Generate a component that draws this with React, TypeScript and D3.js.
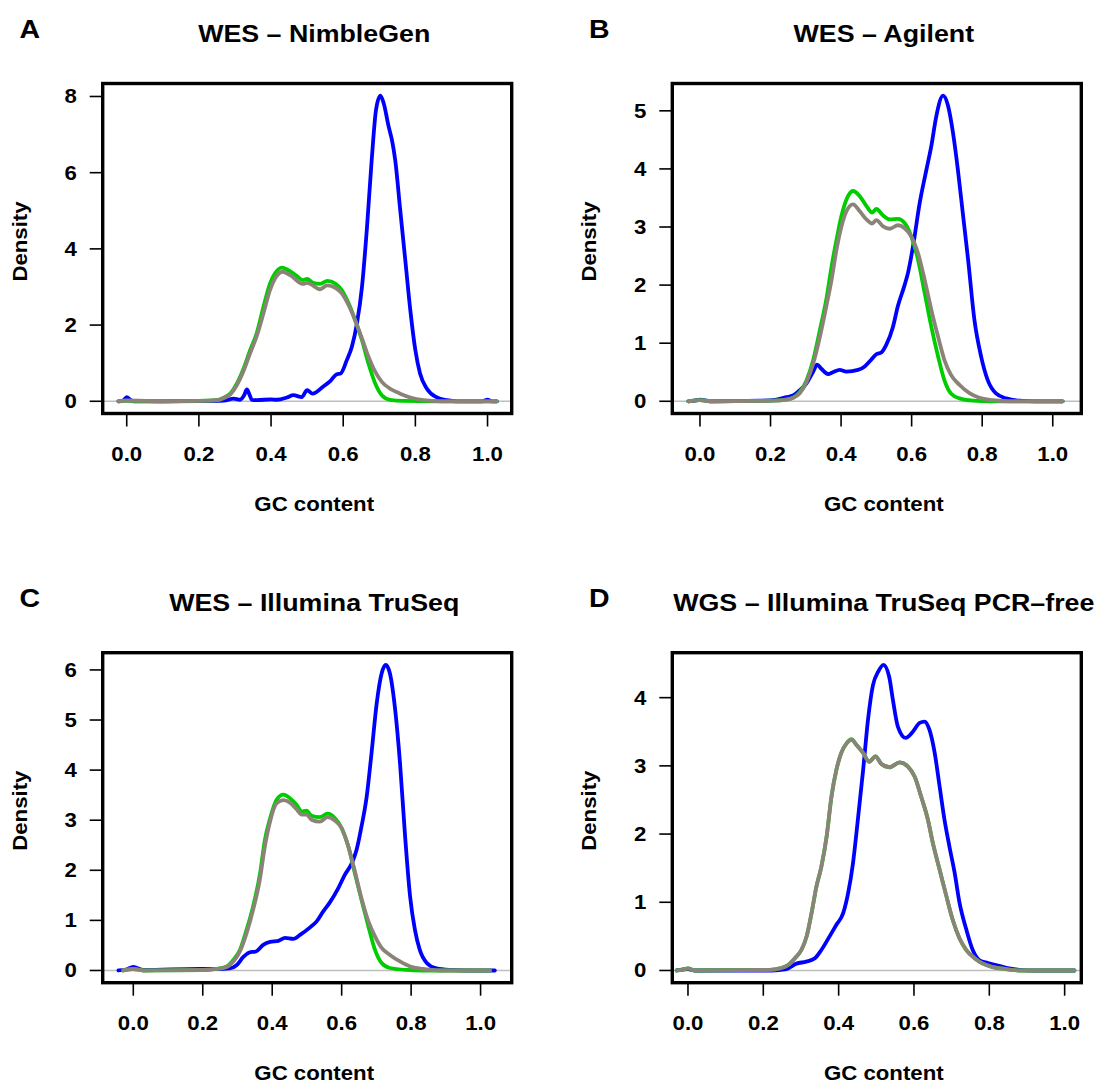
import React from "react";
import * as d3 from "d3";

// GC content density curves: [gc, density]
const nimbleBlue = [[-0.023,0],[-0.01,0.02],[0,0.11],[0.01,0.04],[0.02,0],[0.1,0],[0.2,0.005],[0.27,0.02],[0.296,0.07],[0.314,0.04],[0.325,0.15],[0.333,0.31],[0.34,0.18],[0.347,0.04],[0.36,0.03],[0.4,0.05],[0.416,0.04],[0.444,0.1],[0.462,0.16],[0.485,0.11],[0.5,0.29],[0.515,0.2],[0.545,0.39],[0.564,0.53],[0.582,0.71],[0.593,0.73],[0.61,1.08],[0.624,1.43],[0.638,2.04],[0.652,3.0],[0.666,4.58],[0.679,6.34],[0.691,7.65],[0.703,8.02],[0.712,7.83],[0.726,7.21],[0.735,6.86],[0.744,6.34],[0.758,5.02],[0.772,3.71],[0.786,2.39],[0.8,1.34],[0.813,0.73],[0.832,0.33],[0.86,0.1],[0.887,0.03],[0.915,0],[0.985,0],[1.0,0.04],[1.012,0],[1.026,0]];
const nimbleGreen = [[-0.023,0],[0,0.01],[0.1,0],[0.2,0.01],[0.25,0.03],[0.268,0.09],[0.287,0.2],[0.305,0.46],[0.324,0.86],[0.342,1.34],[0.36,1.78],[0.379,2.48],[0.397,3.09],[0.411,3.36],[0.43,3.51],[0.448,3.44],[0.471,3.29],[0.488,3.18],[0.5,3.21],[0.516,3.11],[0.536,3.08],[0.556,3.16],[0.578,3.09],[0.596,2.92],[0.615,2.57],[0.633,2.13],[0.652,1.6],[0.67,0.99],[0.689,0.46],[0.707,0.16],[0.73,0.04],[0.767,0.01],[0.85,0],[1.026,0]];
const nimbleGray = [[-0.023,0],[0,0.02],[0.1,0],[0.2,0.01],[0.25,0.03],[0.268,0.08],[0.287,0.18],[0.305,0.42],[0.324,0.8],[0.342,1.26],[0.36,1.7],[0.379,2.31],[0.397,2.92],[0.411,3.22],[0.432,3.4],[0.453,3.31],[0.488,3.08],[0.5,3.11],[0.536,2.94],[0.556,3.04],[0.578,2.98],[0.596,2.83],[0.615,2.52],[0.633,2.13],[0.652,1.65],[0.67,1.17],[0.689,0.77],[0.707,0.51],[0.73,0.33],[0.758,0.2],[0.786,0.1],[0.823,0.03],[0.87,0],[1.026,0]];

const agilentBlue = [[-0.033,0],[-0.015,0.01],[0,0.03],[0.028,0],[0.17,0.01],[0.217,0.03],[0.245,0.07],[0.264,0.1],[0.283,0.19],[0.302,0.31],[0.321,0.51],[0.332,0.63],[0.344,0.56],[0.363,0.47],[0.377,0.5],[0.396,0.54],[0.415,0.51],[0.448,0.54],[0.467,0.6],[0.486,0.72],[0.5,0.81],[0.514,0.84],[0.528,0.97],[0.547,1.28],[0.561,1.64],[0.58,2.0],[0.59,2.22],[0.604,2.67],[0.623,3.42],[0.642,3.99],[0.656,4.4],[0.67,4.91],[0.689,5.26],[0.703,5.09],[0.717,4.63],[0.731,3.99],[0.745,3.24],[0.76,2.44],[0.778,1.4],[0.797,0.77],[0.816,0.36],[0.84,0.13],[0.868,0.05],[0.906,0.01],[0.95,0],[1.028,0]];
const agilentGreen = [[-0.033,0],[0,0.02],[0.03,0],[0.208,0.01],[0.245,0.03],[0.264,0.06],[0.283,0.16],[0.302,0.36],[0.321,0.71],[0.34,1.23],[0.358,1.75],[0.373,2.32],[0.387,2.78],[0.401,3.19],[0.415,3.47],[0.434,3.62],[0.453,3.53],[0.472,3.36],[0.488,3.25],[0.5,3.31],[0.519,3.2],[0.538,3.13],[0.561,3.14],[0.58,3.07],[0.599,2.84],[0.618,2.44],[0.637,1.86],[0.656,1.28],[0.675,0.77],[0.693,0.36],[0.712,0.13],[0.736,0.05],[0.774,0.01],[0.82,0],[1.028,0]];
const agilentGray = [[-0.033,0],[0,0.02],[0.03,0],[0.208,0.01],[0.245,0.03],[0.264,0.06],[0.283,0.14],[0.302,0.33],[0.321,0.65],[0.34,1.11],[0.358,1.63],[0.373,2.09],[0.387,2.61],[0.401,3.01],[0.415,3.27],[0.434,3.39],[0.453,3.27],[0.472,3.13],[0.488,3.06],[0.5,3.12],[0.519,3.01],[0.538,2.97],[0.561,3.03],[0.58,2.98],[0.599,2.84],[0.618,2.55],[0.637,2.09],[0.656,1.57],[0.675,1.11],[0.693,0.71],[0.712,0.45],[0.736,0.28],[0.764,0.14],[0.792,0.06],[0.83,0.02],[0.877,0],[1.028,0]];

const truseqBlue = [[-0.043,0],[-0.02,0.02],[0,0.07],[0.029,0.01],[0.19,0.03],[0.24,0.03],[0.278,0.04],[0.298,0.11],[0.317,0.27],[0.334,0.36],[0.353,0.38],[0.374,0.51],[0.394,0.57],[0.418,0.59],[0.437,0.65],[0.461,0.63],[0.48,0.71],[0.509,0.86],[0.528,0.98],[0.547,1.18],[0.566,1.36],[0.59,1.64],[0.609,1.91],[0.629,2.14],[0.643,2.41],[0.657,2.87],[0.672,3.47],[0.686,4.34],[0.701,5.34],[0.715,5.93],[0.727,6.1],[0.739,5.93],[0.753,5.27],[0.768,4.14],[0.782,2.74],[0.797,1.48],[0.811,0.81],[0.825,0.41],[0.845,0.15],[0.873,0.04],[0.912,0.01],[0.96,0],[1.041,0]];
const truseqGreen = [[-0.029,0],[0,0.03],[0.029,0],[0.2,0.01],[0.24,0.03],[0.269,0.08],[0.288,0.21],[0.307,0.41],[0.326,0.81],[0.345,1.28],[0.365,1.94],[0.379,2.61],[0.394,3.04],[0.413,3.41],[0.432,3.51],[0.451,3.44],[0.47,3.31],[0.485,3.17],[0.499,3.19],[0.513,3.09],[0.537,3.06],[0.559,3.13],[0.581,3.04],[0.6,2.84],[0.619,2.48],[0.638,1.94],[0.657,1.41],[0.677,0.88],[0.696,0.41],[0.715,0.15],[0.739,0.05],[0.787,0.01],[0.83,0],[1.027,0]];
const truseqGray = [[-0.029,0],[0,0.03],[0.029,0],[0.2,0.01],[0.24,0.03],[0.269,0.07],[0.288,0.18],[0.307,0.38],[0.326,0.74],[0.345,1.21],[0.365,1.84],[0.379,2.48],[0.394,2.98],[0.413,3.34],[0.432,3.4],[0.451,3.35],[0.47,3.22],[0.485,3.11],[0.499,3.11],[0.513,3.01],[0.537,2.97],[0.559,3.06],[0.581,2.99],[0.6,2.84],[0.619,2.48],[0.638,1.98],[0.657,1.44],[0.677,0.98],[0.696,0.68],[0.715,0.45],[0.739,0.31],[0.768,0.18],[0.797,0.08],[0.835,0.03],[0.883,0],[1.027,0]];

const wgsBlue = [[-0.03,0],[0,0.02],[0.02,0],[0.222,0],[0.261,0.02],[0.288,0.1],[0.314,0.13],[0.337,0.18],[0.354,0.3],[0.376,0.5],[0.394,0.67],[0.412,0.84],[0.425,1.13],[0.438,1.57],[0.451,2.21],[0.465,2.94],[0.478,3.68],[0.491,4.18],[0.505,4.38],[0.519,4.48],[0.534,4.31],[0.544,3.97],[0.557,3.58],[0.578,3.41],[0.597,3.5],[0.615,3.63],[0.628,3.65],[0.641,3.53],[0.655,3.19],[0.668,2.7],[0.681,2.21],[0.694,1.82],[0.708,1.43],[0.721,0.99],[0.739,0.6],[0.756,0.3],[0.774,0.15],[0.796,0.11],[0.818,0.08],[0.845,0.04],[0.88,0.01],[0.92,0],[1.026,0]];
const wgsGreen = [[-0.03,0],[-0.015,0.01],[0,0.03],[0.019,0],[0.217,0.01],[0.244,0.03],[0.266,0.08],[0.284,0.18],[0.301,0.3],[0.315,0.5],[0.328,0.84],[0.341,1.23],[0.354,1.52],[0.368,1.96],[0.381,2.55],[0.394,2.94],[0.407,3.19],[0.421,3.33],[0.434,3.39],[0.447,3.31],[0.465,3.19],[0.481,3.06],[0.498,3.14],[0.513,3.03],[0.535,2.98],[0.562,3.05],[0.584,2.99],[0.602,2.84],[0.619,2.55],[0.637,2.21],[0.65,1.87],[0.668,1.48],[0.686,1.09],[0.703,0.74],[0.721,0.47],[0.739,0.3],[0.761,0.18],[0.783,0.1],[0.809,0.05],[0.845,0.02],[0.88,0],[1.026,0]];
const wgsGray = [[-0.03,0],[-0.015,0.01],[0,0.03],[0.019,0],[0.217,0.01],[0.244,0.03],[0.266,0.08],[0.284,0.18],[0.301,0.3],[0.315,0.5],[0.328,0.84],[0.341,1.23],[0.354,1.52],[0.368,1.96],[0.381,2.55],[0.394,2.94],[0.407,3.19],[0.421,3.33],[0.434,3.38],[0.447,3.31],[0.465,3.19],[0.481,3.06],[0.498,3.14],[0.513,3.03],[0.535,2.98],[0.562,3.05],[0.584,2.99],[0.602,2.84],[0.619,2.55],[0.637,2.21],[0.65,1.87],[0.668,1.48],[0.686,1.09],[0.703,0.74],[0.721,0.47],[0.739,0.3],[0.761,0.18],[0.783,0.1],[0.809,0.05],[0.845,0.02],[0.88,0],[1.026,0]];

const letters = ["A", "B", "C", "D"];
const titles = ["WES \u2013 NimbleGen", "WES \u2013 Agilent", "WES \u2013 Illumina TruSeq", "WGS \u2013 Illumina TruSeq PCR\u2013free"];
const xLims = [[-0.0246, 1.025], [-0.0355, 1.038], [-0.0445, 1.046], [-0.0014, 1.004]];
const yTicks = [[0, 2, 4, 6, 8], [0, 1, 2, 3, 4, 5], [0, 1, 2, 3, 4, 5, 6], [0, 1, 2, 3, 4]];
const xTicks = [0, 0.2, 0.4, 0.6, 0.8, 1.0];
const seriesByPanel = [
  [nimbleBlue, nimbleGreen, nimbleGray],
  [agilentBlue, agilentGreen, agilentGray],
  [truseqBlue, truseqGreen, truseqGray],
  [wgsBlue, wgsGreen, wgsGray],
];
const colors = ["#0000FF", "#00CD00", "#8B8378"];

const FONT = "'Liberation Sans', Arial, Helvetica, sans-serif";
const STRETCH = 1.14;

function Label({ x, y, size, text, anchor = "middle", rotate = 0 }) {
  return (
    <text
      transform={`translate(${x},${y}) rotate(${rotate}) scale(${STRETCH},1)`}
      textAnchor={anchor}
      fontFamily={FONT}
      fontWeight="bold"
      fontSize={size}
      fill="#000"
    >
      {text}
    </text>
  );
}

function Panel({ i, left, top }) {
  const w = 409, h = 330;
  const expand = ([a, b]) => [a - 0.04 * (b - a), b + 0.04 * (b - a)];
  const series = seriesByPanel[i];
  const yMax = d3.max(series.flat(), d => d[1]);
  const x = d3.scaleLinear().domain(expand(xLims[i])).range([left, left + w]);
  const y = d3.scaleLinear().domain(expand([0, yMax])).range([top + h, top]);
  const line = d3.line().x(d => x(d[0])).y(d => y(d[1])).curve(d3.curveMonotoneX);
  const cx = left + w / 2 + 7;
  const clipId = `clip-${i}`;

  return (
    <g>
      <clipPath id={clipId}>
        <rect x={left} y={top} width={w} height={h} />
      </clipPath>
      <Label x={left - 73} y={top - 46} size={25} text={letters[i]} />
      <Label x={cx} y={top - 41.5} size={23.5} text={titles[i]} />
      <line x1={left} x2={left + w} y1={y(0)} y2={y(0)} stroke="#BEBEBE" strokeWidth={1.5} />
      <g clipPath={`url(#${clipId})`} fill="none" strokeWidth={3.8} strokeLinejoin="round" strokeLinecap="round">
        {series.map((s, k) => (
          <path key={k} d={line(s)} stroke={colors[k]} />
        ))}
      </g>
      <rect x={left} y={top} width={w} height={h} fill="none" stroke="#000" strokeWidth={3.4} />
      {xTicks.map(t => (
        <g key={t}>
          <line x1={x(t)} x2={x(t)} y1={top + h} y2={top + h + 13} stroke="#000" strokeWidth={1.6} />
          <Label x={x(t)} y={top + h + 47} size={19.5} text={t.toFixed(1)} />
        </g>
      ))}
      {yTicks[i].map(t => (
        <g key={t}>
          <line x1={left - 13} x2={left} y1={y(t)} y2={y(t)} stroke="#000" strokeWidth={1.6} />
          <Label x={left - 32} y={y(t) + 7} size={19.5} text={String(t)} />
        </g>
      ))}
      <Label x={cx} y={top + h + 97} size={19.5} text="GC content" />
      <Label x={left - 76} y={top + h / 2 - 7} size={19.5} text="Density" rotate={-90} />
    </g>
  );
}

export default function App() {
  const lefts = [102.7, 672.3, 102.7, 672.3];
  const tops = [83.5, 83.5, 652.7, 652.7];
  return (
    <svg
      width={1100}
      height={1086}
      style={{ position: "absolute", left: 0, top: 0, background: "#fff" }}
    >
      <rect width={1100} height={1086} fill="#fff" />
      {letters.map((_, i) => (
        <Panel key={i} i={i} left={lefts[i]} top={tops[i]} />
      ))}
    </svg>
  );
}
